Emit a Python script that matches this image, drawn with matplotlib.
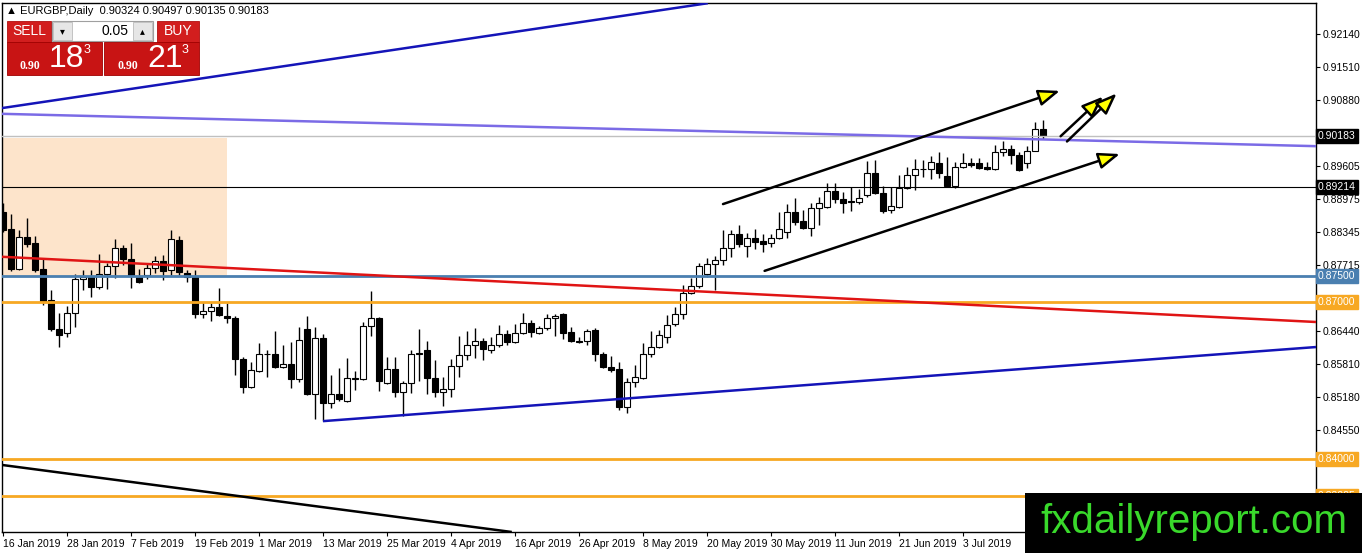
import pandas as pd
import matplotlib
matplotlib.use("Agg")
import matplotlib.pyplot as plt
from matplotlib import font_manager
from matplotlib.patches import Rectangle
from matplotlib.transforms import blended_transform_factory

# ---- data -------------------------------------------------------------
title = "\u25b2 EURGBP,Daily  0.90324 0.90497 0.90135 0.90183"
first_day = "2019-01-16"

opens = [
    0.8873, 0.8840, 0.8764, 0.8825, 0.8813, 0.8764, 0.8704, 0.8648, 0.8641, 0.8679,
    0.8744, 0.8748, 0.8729, 0.8754, 0.8769, 0.8804, 0.8783, 0.8748, 0.8752, 0.8765,
    0.8779, 0.8762, 0.8819, 0.8756, 0.8748, 0.8677, 0.8683, 0.8691, 0.8673, 0.8670,
    0.8591, 0.8537, 0.8568, 0.8600, 0.8601, 0.8576, 0.8581, 0.8553, 0.8648, 0.8524,
    0.8631, 0.8507, 0.8524, 0.8510, 0.8555, 0.8553, 0.8654, 0.8670, 0.8545, 0.8572,
    0.8528, 0.8545, 0.8602, 0.8608, 0.8555, 0.8528, 0.8533, 0.8578, 0.8599, 0.8618,
    0.8625, 0.8608, 0.8618, 0.8639, 0.8624, 0.8641, 0.8660, 0.8641, 0.8650, 0.8670,
    0.8677, 0.8643, 0.8625, 0.8625, 0.8647, 0.8601, 0.8576, 0.8572, 0.8499, 0.8547,
    0.8555, 0.8601, 0.8614, 0.8633, 0.8658, 0.8677, 0.8717, 0.8731, 0.8754, 0.8773,
    0.8781, 0.8804, 0.8831, 0.8808, 0.8823, 0.8817, 0.8813, 0.8823, 0.8834, 0.8873,
    0.8856, 0.8842, 0.8880, 0.8882, 0.8913, 0.8898, 0.8894, 0.8892, 0.8905, 0.8948,
    0.8909, 0.8877, 0.8882, 0.8919, 0.8944, 0.8955, 0.8955, 0.8967, 0.8942, 0.8923,
    0.8959, 0.8967, 0.8967, 0.8959, 0.8955, 0.8988, 0.8994, 0.8982, 0.8967, 0.8990,
    0.90324,
]
highs = [
    0.8890, 0.8869, 0.8838, 0.8861, 0.8827, 0.8785, 0.8723, 0.8679, 0.8693, 0.8754,
    0.8762, 0.8762, 0.8792, 0.8775, 0.8821, 0.8810, 0.8813, 0.8764, 0.8773, 0.8788,
    0.8790, 0.8838, 0.8827, 0.8762, 0.8762, 0.8700, 0.8698, 0.8727, 0.8698, 0.8673,
    0.8595, 0.8585, 0.8622, 0.8608, 0.8645, 0.8618, 0.8624, 0.8652, 0.8673, 0.8652,
    0.8639, 0.8560, 0.8574, 0.8593, 0.8568, 0.8662, 0.8721, 0.8672, 0.8595, 0.8595,
    0.8549, 0.8608, 0.8648, 0.8625, 0.8589, 0.8556, 0.8591, 0.8635, 0.8645, 0.8650,
    0.8631, 0.8633, 0.8656, 0.8647, 0.8658, 0.8679, 0.8666, 0.8654, 0.8677, 0.8677,
    0.8679, 0.8652, 0.8633, 0.8648, 0.8650, 0.8604, 0.8597, 0.8585, 0.8555, 0.8579,
    0.8622, 0.8645, 0.8647, 0.8675, 0.8691, 0.8733, 0.8746, 0.8775, 0.8785, 0.8788,
    0.8838, 0.8838, 0.8848, 0.8833, 0.8840, 0.8831, 0.8831, 0.8873, 0.8888, 0.8900,
    0.8877, 0.8890, 0.8902, 0.8928, 0.8928, 0.8911, 0.8921, 0.8917, 0.8971, 0.8972,
    0.8923, 0.8921, 0.8944, 0.8959, 0.8974, 0.8972, 0.8980, 0.8988, 0.8978, 0.8969,
    0.8986, 0.8976, 0.8976, 0.8969, 0.9001, 0.9009, 0.9001, 0.8988, 0.8999, 0.9045,
    0.90497,
]
lows = [
    0.8834, 0.8760, 0.8762, 0.8806, 0.8758, 0.8694, 0.8645, 0.8614, 0.8633, 0.8652,
    0.8723, 0.8710, 0.8725, 0.8725, 0.8746, 0.8771, 0.8727, 0.8737, 0.8744, 0.8756,
    0.8742, 0.8752, 0.8752, 0.8739, 0.8670, 0.8670, 0.8664, 0.8673, 0.8660, 0.8560,
    0.8526, 0.8535, 0.8566, 0.8556, 0.8574, 0.8574, 0.8535, 0.8547, 0.8522, 0.8476,
    0.8472, 0.8497, 0.8510, 0.8509, 0.8532, 0.8551, 0.8635, 0.8530, 0.8543, 0.8518,
    0.8482, 0.8526, 0.8549, 0.8524, 0.8518, 0.8501, 0.8518, 0.8556, 0.8589, 0.8593,
    0.8589, 0.8602, 0.8614, 0.8618, 0.8622, 0.8639, 0.8633, 0.8639, 0.8647, 0.8635,
    0.8629, 0.8624, 0.8622, 0.8618, 0.8587, 0.8574, 0.8566, 0.8493, 0.8487, 0.8537,
    0.8553, 0.8595, 0.8612, 0.8622, 0.8654, 0.8668, 0.8716, 0.8727, 0.8748, 0.8723,
    0.8771, 0.8787, 0.8806, 0.8787, 0.8802, 0.8796, 0.8806, 0.8821, 0.8823, 0.8848,
    0.8840, 0.8827, 0.8848, 0.8880, 0.8890, 0.8871, 0.8875, 0.8888, 0.8902, 0.8907,
    0.8871, 0.8871, 0.8880, 0.8917, 0.8915, 0.8940, 0.8936, 0.8938, 0.8921, 0.8919,
    0.8957, 0.8959, 0.8955, 0.8953, 0.8953, 0.8980, 0.8965, 0.8951, 0.8957, 0.8989,
    0.90135,
]
closes = [
    0.8838, 0.8764, 0.8825, 0.8811, 0.8762, 0.8700, 0.8648, 0.8637, 0.8679, 0.8744,
    0.8748, 0.8729, 0.8754, 0.8769, 0.8804, 0.8783, 0.8752, 0.8739, 0.8765, 0.8779,
    0.8760, 0.8821, 0.8758, 0.8748, 0.8677, 0.8683, 0.8691, 0.8675, 0.8670, 0.8591,
    0.8537, 0.8570, 0.8601, 0.8601, 0.8576, 0.8581, 0.8553, 0.8627, 0.8524, 0.8631,
    0.8507, 0.8524, 0.8514, 0.8555, 0.8553, 0.8654, 0.8670, 0.8549, 0.8572, 0.8528,
    0.8545, 0.8601, 0.8601, 0.8555, 0.8528, 0.8533, 0.8578, 0.8599, 0.8618, 0.8625,
    0.8610, 0.8618, 0.8639, 0.8624, 0.8641, 0.8660, 0.8643, 0.8650, 0.8670, 0.8673,
    0.8641, 0.8625, 0.8624, 0.8645, 0.8601, 0.8576, 0.8570, 0.8499, 0.8547, 0.8556,
    0.8601, 0.8614, 0.8637, 0.8656, 0.8677, 0.8717, 0.8731, 0.8769, 0.8773, 0.8781,
    0.8804, 0.8831, 0.8811, 0.8823, 0.8815, 0.8811, 0.8823, 0.8840, 0.8873, 0.8854,
    0.8842, 0.8880, 0.8890, 0.8913, 0.8898, 0.8890, 0.8892, 0.8900, 0.8948, 0.8909,
    0.8875, 0.8884, 0.8919, 0.8944, 0.8955, 0.8956, 0.8969, 0.8948, 0.8923, 0.8959,
    0.8967, 0.8963, 0.8957, 0.8955, 0.8988, 0.8994, 0.8982, 0.8953, 0.8990, 0.9032,
    0.90183,
]

price_ticks = [0.92140, 0.91510, 0.90880, 0.89605, 0.88975, 0.88345,
               0.87715, 0.86440, 0.85810, 0.85180, 0.84550]

last_price = 0.90183
black_level = 0.89214
levels = [0.87500, 0.87000, 0.84000, 0.83285]

# drawn objects, (bar, price) pairs
zone = [(-0.125, 0.8750), (28.0, 0.9015)]
blue_top = [(-0.125, 0.9072), (88.1, 0.9273)]
purple_line = [(-0.125, 0.9061), (164.125, 0.8999)]
red_line = [(-0.125, 0.8787), (164.125, 0.8662)]
blue_low = [(40.0, 0.8472), (164.125, 0.8614)]
black_low = [(-0.125, 0.8388), (63.6, 0.82595)]
arrows = [
    [(90.0, 0.8888), (132.1, 0.9105)],
    [(95.2, 0.8760), (139.6, 0.8984)],
    [(132.2, 0.9018), (137.5, 0.9094)],
    [(133.0, 0.9008), (139.2, 0.9100)],
]

# ---- style ------------------------------------------------------------
names = {f.name for f in font_manager.fontManager.ttflist}
narrow = "Liberation Sans Narrow" if "Liberation Sans Narrow" in names else "Liberation Sans"
plt.rcParams["font.family"] = [narrow, "DejaVu Sans"]

W, H = 1362, 553
fig = plt.figure(figsize=(W / 100, H / 100), dpi=100)
ax = fig.add_axes([2 / W, 21 / H, 1314 / W, 529 / H])
ax.set_xlim(-0.125, 164.125)
ax.set_ylim(0.82595, 0.92734)

n = len(closes)
bars = list(range(n))
dates = pd.bdate_range(first_day, periods=n)

# background zone
(zx0, zy0), (zx1, zy1) = zone
ax.add_patch(Rectangle((zx0, zy0), zx1 - zx0, zy1 - zy0, fc="#FDE4CB", ec="none", zorder=0))

# candles
ax.vlines(bars, lows, highs, color="black", lw=1, zorder=2)
for i in bars:
    o, c = opens[i], closes[i]
    body = max(abs(c - o), 0.00004)
    ax.bar(i, body, bottom=min(o, c), width=0.65,
           color="white" if c >= o else "black", edgecolor="black", lw=0.8, zorder=3)

# horizontal levels
ax.axhline(last_price, color="#C0C0C0", lw=1, zorder=4)
ax.axhline(black_level, color="black", lw=0.8, zorder=4)
level_colors = ["#4A7FB0", "#F7A823", "#F7A823", "#F7A823"]
for lv, col in zip(levels, level_colors):
    ax.axhline(lv, color=col, lw=2, zorder=4)

# trend lines
for pts, col in [(blue_top, "#1414B8"), (purple_line, "#7B6BE6"),
                 (red_line, "#E01414"), (blue_low, "#1414B8"), (black_low, "black")]:
    ax.plot([p[0] for p in pts], [p[1] for p in pts], color=col, lw=1.8,
            solid_capstyle="butt", zorder=5)

for (x0, y0), (x1, y1) in arrows:
    ax.annotate("", xy=(x1, y1), xytext=(x0, y0), zorder=6,
                arrowprops=dict(arrowstyle="-|>,head_length=1.3,head_width=0.5",
                                mutation_scale=10, fc="#FFFF00", ec="black", lw=1.8,
                                shrinkA=0, shrinkB=0))

# axes look
for sp in ax.spines.values():
    sp.set_color("black")
    sp.set_linewidth(1)
ax.yaxis.tick_right()
ax.set_yticks(price_ticks)
ax.set_yticklabels([f"{t:.5f}" for t in price_ticks])
ax.tick_params(axis="y", direction="out", length=3, width=0.8, pad=2, labelsize=7.5)

tick_bars = bars[::8]
ax.set_xticks(tick_bars)
ax.set_xticklabels([f"{dates[i].day} {dates[i].strftime('%b %Y')}" for i in tick_bars])
ax.tick_params(axis="x", direction="out", length=3, width=0.8, pad=2, labelsize=7.5)
for lab in ax.get_xticklabels():
    lab.set_ha("left")

# price tags on the scale
tr = blended_transform_factory(ax.transAxes, ax.transData)
tags = [(last_price, "black"), (black_level, "black")] + list(zip(levels, level_colors))
for price, col in tags:
    ax.text(1.0015, price, f"{price:.5f}", transform=tr, ha="left", va="center",
            fontsize=7.5, color="white", clip_on=False, zorder=7,
            bbox=dict(boxstyle="square,pad=0.2", fc=col, ec=col))

# ---- header / trade panel ------------------------------------------------
def px_rect(x, y, w, h, **kw):
    fig.add_artist(Rectangle((x / W, 1 - (y + h) / H), w / W, h / H,
                             transform=fig.transFigure, **kw))


def px_text(x, y, s, **kw):
    fig.text(x / W, 1 - y / H, s, **kw)


px_text(6, 11, title, fontsize=8, va="center", ha="left", color="black", zorder=12)

red = "#D21E1E"
px_rect(7, 21, 44, 21, fc=red, ec="#B01010", lw=0.6, zorder=11)
px_rect(157, 21, 42, 21, fc=red, ec="#B01010", lw=0.6, zorder=11)
px_rect(52, 21, 101, 20, fc="white", ec="#A0A0A0", lw=0.8, zorder=11)
px_rect(53, 22, 19, 18, fc="#E6E6E6", ec="#B0B0B0", lw=0.5, zorder=11)
px_rect(133, 22, 19, 18, fc="#E6E6E6", ec="#B0B0B0", lw=0.5, zorder=11)
px_text(62, 31, "\u25be", fontsize=7, ha="center", va="center", color="black",
        family="DejaVu Sans", zorder=12)
px_text(142, 31, "\u25b4", fontsize=7, ha="center", va="center", color="black",
        family="DejaVu Sans", zorder=12)
px_text(128, 31, "0.05", fontsize=10, ha="right", va="center", color="black", zorder=12)
px_text(29, 31, "SELL", fontsize=10, ha="center", va="center", color="white", zorder=12)
px_text(178, 31, "BUY", fontsize=10, ha="center", va="center", color="white", zorder=12)

px_rect(7, 42, 95, 33, fc="#C81414", ec="#A00000", lw=0.6, zorder=11)
px_rect(104, 42, 95, 33, fc="#C81414", ec="#A00000", lw=0.6, zorder=11)
for x0, big in [(20, "18"), (118, "21")]:
    px_text(x0, 66, "0.90", fontsize=8.5, fontweight="bold", ha="left", va="center",
            color="white", family="Liberation Serif", zorder=12)
    px_text(x0 + 29, 59, big, fontsize=23, ha="left", va="center", color="white",
            family="Liberation Sans", zorder=12)
    px_text(x0 + 64, 50, "3", fontsize=9, ha="left", va="center", color="white",
            family="Liberation Sans", zorder=12)

# watermark
px_rect(1025, 493, 337, 60, fc="black", ec="none", zorder=20)
px_text(1194, 522, "fxdailyreport.com", fontsize=29, ha="center", va="center",
        color="#39D92B", family="Liberation Sans", zorder=21)

fig.savefig("out.png", dpi=100)
